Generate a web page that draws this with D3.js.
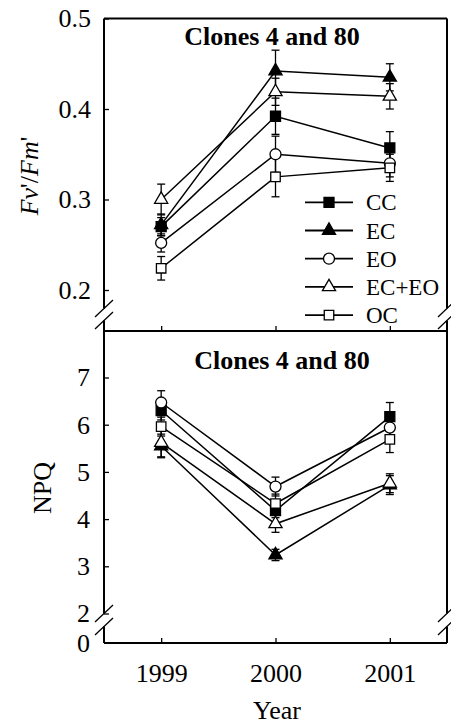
<!DOCTYPE html>
<html>
<head>
<meta charset="utf-8">
<script src="https://cdn.jsdelivr.net/npm/d3@7"></script>
<style>
  body { margin: 0; background: #fff; }
  text { font-family: "Liberation Serif", "Times New Roman", serif; fill: #000; }
</style>
</head>
<body>
<svg id="chart" width="451" height="724"></svg>
<script>
// data
var years = [1999, 2000, 2001];
var seriesNames = ["CC", "EC", "EO", "EC+EO", "OC"];

// Fv'/Fm' (top panel)
var fvCC   = [0.270, 0.392, 0.357], fvCCErr   = [0.010, 0.020, 0.018];
var fvEC   = [0.272, 0.442, 0.435], fvECErr   = [0.012, 0.023, 0.015];
var fvEO   = [0.252, 0.350, 0.340], fvEOErr   = [0.010, 0.020, 0.015];
var fvECEO = [0.300, 0.419, 0.414], fvECEOErr = [0.017, 0.015, 0.014];
var fvOC   = [0.224, 0.325, 0.335], fvOCErr   = [0.013, 0.022, 0.015];

// NPQ (bottom panel)
var npqCC   = [6.30, 4.18, 6.17], npqCCErr   = [0.20, 0.15, 0.30];
var npqEC   = [5.55, 3.24, 4.72], npqECErr   = [0.25, 0.12, 0.20];
var npqEO   = [6.47, 4.69, 5.94], npqEOErr   = [0.25, 0.20, 0.20];
var npqECEO = [5.62, 3.90, 4.76], npqECEOErr = [0.30, 0.18, 0.20];
var npqOC   = [5.96, 4.33, 5.69], npqOCErr   = [0.20, 0.20, 0.28];

var fvTicks = [0.2, 0.3, 0.4, 0.5];
var npqTicks = [0, 2, 3, 4, 5, 6, 7];
var panelTitle = "Clones 4 and 80";

var svg = d3.select("#chart");
var L = 104, R = 447;

var x = d3.scaleLinear().domain([1998.5, 2001.5]).range([L, R]);
var yTop = d3.scaleLinear().domain([0.2, 0.5]).range([290, 18.5]);
// broken axis: 0 sits on the bottom line, 2..8 is the real range
var yBot = d3.scaleLinear().domain([0, 2, 8]).range([643, 613.5, 330.3]);

var shapes = {
  "CC":    {sym: d3.symbolSquare,   size: 100, fill: "#000"},
  "EC":    {sym: d3.symbolTriangle, size: 75,  fill: "#000"},
  "EO":    {sym: d3.symbolCircle,   size: 95,  fill: "#fff"},
  "EC+EO": {sym: d3.symbolTriangle, size: 75,  fill: "#fff"},
  "OC":    {sym: d3.symbolSquare,   size: 90,  fill: "#fff"}
};

function build(vals, errs) {
  return seriesNames.map(function(name, i) {
    return {name: name, pts: years.map(function(yr, j) {
      return {year: yr, v: vals[i][j], e: errs[i][j]};
    })};
  });
}

var topData = build([fvCC, fvEC, fvEO, fvECEO, fvOC],
                    [fvCCErr, fvECErr, fvEOErr, fvECEOErr, fvOCErr]);
var botData = build([npqCC, npqEC, npqEO, npqECEO, npqOC],
                    [npqCCErr, npqECErr, npqEOErr, npqECEOErr, npqOCErr]);

function drawSeries(data, y) {
  var g = svg.append("g");
  var line = d3.line().x(function(d) { return x(d.year); }).y(function(d) { return y(d.v); });
  g.selectAll("path.ln").data(data).join("path")
    .attr("class", "ln")
    .attr("d", function(d) { return line(d.pts); })
    .attr("fill", "none").attr("stroke", "#000").attr("stroke-width", 1.5);
  data.forEach(function(s) {
    var eg = g.append("g");
    s.pts.forEach(function(p) {
      var cx = x(p.year), y0 = y(p.v - p.e), y1 = y(p.v + p.e);
      eg.append("line").attr("x1", cx).attr("x2", cx).attr("y1", y0).attr("y2", y1)
        .attr("stroke", "#000").attr("stroke-width", 1.3);
      [y0, y1].forEach(function(yy) {
        eg.append("line").attr("x1", cx - 4).attr("x2", cx + 4).attr("y1", yy).attr("y2", yy)
          .attr("stroke", "#000").attr("stroke-width", 1.3);
      });
    });
  });
  data.forEach(function(s) {
    var sh = shapes[s.name];
    g.selectAll(null).data(s.pts).join("path")
      .attr("transform", function(d) { return "translate(" + x(d.year) + "," + y(d.v) + ")"; })
      .attr("d", d3.symbol().type(sh.sym).size(sh.size)())
      .attr("fill", sh.fill).attr("stroke", "#000").attr("stroke-width", 1.3);
  });
}

drawSeries(topData, yTop);
drawSeries(botData, yBot);

// axes (ticks and labels only; frame lines drawn by hand because of the breaks)
var axT = svg.append("g").attr("transform", "translate(" + L + ",0)")
  .call(d3.axisLeft(yTop).tickValues(fvTicks).tickFormat(d3.format(".1f")).tickSizeInner(-5).tickSizeOuter(0).tickPadding(13));
var axB = svg.append("g").attr("transform", "translate(" + L + ",0)")
  .call(d3.axisLeft(yBot).tickValues(npqTicks).tickFormat(d3.format("d")).tickSizeInner(-5).tickSizeOuter(0).tickPadding(14));
var axX1 = svg.append("g").attr("transform", "translate(0,331)")
  .call(d3.axisBottom(x).tickValues(years).tickFormat("").tickSizeInner(-5).tickSizeOuter(0));
var axX2 = svg.append("g").attr("transform", "translate(0,643)")
  .call(d3.axisBottom(x).tickValues(years).tickFormat(d3.format("d")).tickSizeInner(-5).tickSizeOuter(0).tickPadding(21));
axB.selectAll(".tick").filter(function(d) { return d === 0; }).select("line").remove();

[axT, axB, axX1, axX2].forEach(function(a) {
  a.select(".domain").remove();
  a.selectAll(".tick line").attr("stroke-width", 1.3);
  a.selectAll("text").attr("font-size", 26).attr("font-family", "Liberation Serif");
});

// frame with axis breaks
var frame = [
  [L, 18.5, R, 18.5],
  [L, 331, R, 331],
  [L, 643, R, 643],
  [L, 18.5, L, 308.5], [L, 320.5, L, 331],
  [R, 18.5, R, 308.5], [R, 320.5, R, 331],
  [L, 331, L, 613.5], [L, 626.5, L, 643],
  [R, 331, R, 613.5], [R, 626.5, R, 643]
];
svg.append("g").selectAll("line").data(frame).join("line")
  .attr("x1", function(d) { return d[0]; }).attr("y1", function(d) { return d[1]; })
  .attr("x2", function(d) { return d[2]; }).attr("y2", function(d) { return d[3]; })
  .attr("stroke", "#000").attr("stroke-width", 2);

var breaks = [];
[L, R].forEach(function(bx) {
  [308.5, 320.5, 613.5, 626.5].forEach(function(by) {
    breaks.push([bx - 9, by + 8.5, bx + 9, by - 8.5]);
  });
});
svg.append("g").selectAll("line").data(breaks).join("line")
  .attr("x1", function(d) { return d[0]; }).attr("y1", function(d) { return d[1]; })
  .attr("x2", function(d) { return d[2]; }).attr("y2", function(d) { return d[3]; })
  .attr("stroke", "#000").attr("stroke-width", 1.3);

// titles
svg.append("text").attr("x", 272).attr("y", 45).attr("text-anchor", "middle")
  .attr("font-size", 26).attr("font-weight", "bold").text(panelTitle);
svg.append("text").attr("x", 282).attr("y", 369).attr("text-anchor", "middle")
  .attr("font-size", 26).attr("font-weight", "bold").text(panelTitle);

// y labels
var yl = svg.append("text").attr("transform", "translate(38,176) rotate(-90)")
  .attr("text-anchor", "middle").attr("font-size", 26);
yl.append("tspan").attr("font-style", "italic").text("Fv");
yl.append("tspan").text("'/");
yl.append("tspan").attr("font-style", "italic").text("Fm");
yl.append("tspan").text("'");

svg.append("text").attr("transform", "translate(51,488) rotate(-90)")
  .attr("text-anchor", "middle").attr("font-size", 26).text("NPQ");

svg.append("text").attr("x", 277).attr("y", 719).attr("text-anchor", "middle")
  .attr("font-size", 26).text("Year");

// legend
var leg = svg.append("g").selectAll("g").data(seriesNames).join("g")
  .attr("transform", function(d, i) { return "translate(0," + (202.3 + i * 28.2) + ")"; });
leg.append("line").attr("x1", 305).attr("x2", 353).attr("stroke", "#000").attr("stroke-width", 1.8);
leg.append("path")
  .attr("transform", "translate(329,0)")
  .attr("d", function(d) { return d3.symbol().type(shapes[d].sym).size(shapes[d].size)(); })
  .attr("fill", function(d) { return shapes[d].fill; })
  .attr("stroke", "#000").attr("stroke-width", 1.3);
leg.append("text").attr("x", 366).attr("y", 8).attr("font-size", 23).text(function(d) { return d; });
</script>
</body>
</html>
